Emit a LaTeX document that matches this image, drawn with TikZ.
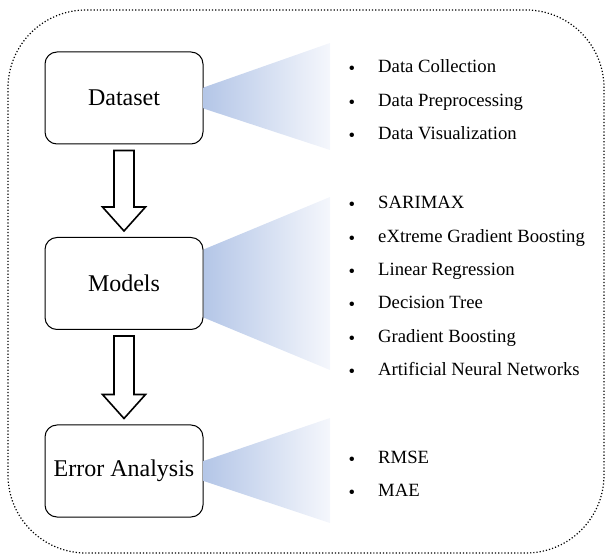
\documentclass[tikz,border=0pt]{standalone}
\usepackage{fontspec}
\setmainfont{Liberation Serif}
\usetikzlibrary{calc}

\definecolor{fanleft}{HTML}{B4C6E7}
\definecolor{fanright}{HTML}{F5F7FC}

\tikzset{
  stage/.style={draw, line width=1pt, rounded corners=12pt, minimum width=158pt,
    minimum height=92pt, inner sep=0pt, font=\fontsize{24}{28}\selectfont},
  item/.style={anchor=mid west, inner sep=0pt, font=\fontsize{18.7}{22}\selectfont},
  dot/.style={inner sep=0pt, font=\fontsize{18.7}{22}\selectfont},
  hollow/.style={draw, line width=1.6pt, fill=white, line join=miter},
  fan/.style={left color=fanleft, right color=fanright}
}

% big open arrow from one stage to the next
\newcommand{\hollowarrow}[2]{%
  \draw[hollow] ($(#1.south)+(-10,6)$) -- ($(#2.north)+(-10,-30)$)
    -- ($(#2.north)+(-21.5,-30)$) -- ($(#2.north)+(0,-6)$)
    -- ($(#2.north)+(21.5,-30)$) -- ($(#2.north)+(10,-30)$)
    -- ($(#1.south)+(10,6)$) -- cycle;}

\begin{document}
\begin{tikzpicture}[x=1pt, y=-1pt]
\useasboundingbox (0,0) rectangle (606,556);

% outer frame
\draw[dotted, line width=1.2pt, rounded corners=78pt] (8,10) rectangle (604,553);

% the three stages
\node[stage] (data) at (124,98) {Dataset};
\node[stage] (model) at (124,283.5) {Models};
\node[stage] (error) at (124,471) {Error Analysis};

% arrows between stages
\hollowarrow{data}{model}
\hollowarrow{model}{error}

% fans
\shade[fan] ($(data.east)+(0,-10.5)$) -- (330,43) -- (330,150) -- ($(data.east)+(0,10.5)$) -- cycle;
\shade[fan] ($(model.east)+(0,-34)$) -- (330,197) -- (330,370) -- ($(model.east)+(0,34)$) -- cycle;
\shade[fan] ($(error.east)+(0,-10)$) -- (330,418) -- (330,523) -- ($(error.east)+(0,10)$) -- cycle;

% lists
\foreach \txt [count=\i] in {Data Collection, Data Preprocessing, Data Visualization} {
  \node[item] (d\i) at (378,{70.5+33.5*(\i-1)}) {\txt};
  \node[dot] (bd\i) at ($(d\i.mid west)+(-26,0)$) {\textbullet};
}
\foreach \txt [count=\i] in {SARIMAX, eXtreme Gradient Boosting, Linear Regression,
    Decision Tree, Gradient Boosting, Artificial Neural Networks} {
  \node[item] (m\i) at (378,{206.5+33.4*(\i-1)}) {\txt};
  \node[dot] (bm\i) at ($(m\i.mid west)+(-26,0)$) {\textbullet};
}
\foreach \txt [count=\i] in {RMSE, MAE} {
  \node[item] (e\i) at (378,{461.5+33*(\i-1)}) {\txt};
  \node[dot] (be\i) at ($(e\i.mid west)+(-26,0)$) {\textbullet};
}
\end{tikzpicture}
\end{document}
